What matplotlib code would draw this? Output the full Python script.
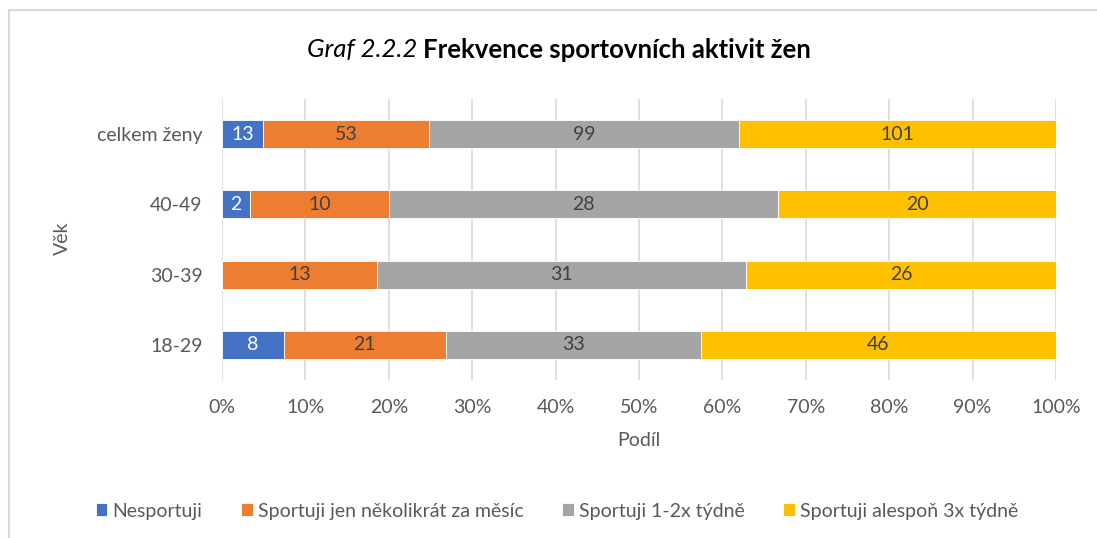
import matplotlib
matplotlib.use('Agg')
from matplotlib import pyplot as plt
from matplotlib.patches import Rectangle
import numpy as np

plt.rcParams['font.family'] = ['Lato', 'DejaVu Sans']

# data (counts per age group), bottom to top
groups = ['18-29', '30-39', '40-49', 'celkem ženy']
series_names = ['Nesportuji', 'Sportuji jen několikrát za měsíc',
                'Sportuji 1-2x týdně', 'Sportuji alespoň 3x týdně']
nesportuji = [8, 0, 2, 13]
nekolikrat = [21, 13, 10, 53]
tydne_1_2 = [33, 31, 28, 99]
tydne_3 = [46, 26, 20, 101]
colors = ['#4472C4', '#ED7D31', '#A5A5A5', '#FFC000']
label_colors = ['white', '#404040', '#404040', '#404040']

counts = np.array([nesportuji, nekolikrat, tydne_1_2, tydne_3], dtype=float)
shares = counts / counts.sum(axis=0)

fig = plt.figure(figsize=(10.97, 5.38), dpi=100)
ax = fig.add_axes([222 / 1097, 1 - 380 / 538, (1056 - 222) / 1097, 281 / 538])

y = np.arange(len(groups))
left = np.zeros(len(groups))
for i in range(len(series_names)):
    bars = ax.barh(y, shares[i], left=left, height=0.4, color=colors[i],
                   edgecolor='white', linewidth=0.6, label=series_names[i], zorder=3)
    for j, b in enumerate(bars):
        if counts[i, j] > 0:
            ax.text(left[j] + shares[i, j] / 2, y[j], '%d' % counts[i, j],
                    ha='center', va='center', fontsize=14, color=label_colors[i], zorder=4)
    left += shares[i]

ax.set_xlim(0, 1)
ax.set_ylim(-0.5, len(groups) - 0.5)
ax.set_xticks(np.arange(0, 1.01, 0.1))
ax.set_xticklabels(['%d%%' % v for v in range(0, 101, 10)])
ax.set_yticks(y)
ax.set_yticklabels(groups)
ax.tick_params(length=0, labelsize=14, labelcolor='#595959', pad=14)
ax.tick_params(axis='y', pad=14)
ax.grid(axis='x', color='#D9D9D9', linewidth=1.2, zorder=0)
for s in ax.spines.values():
    s.set_visible(False)

ax.set_xlabel('Podíl', fontsize=14, color='#595959', labelpad=11)
fig.text(62 / 1097, 1 - 238 / 538, 'Věk', rotation=90, fontsize=14,
         color='#595959', ha='center', va='center')

# title: italic part + bold part, centred together
ty = 1 - 50 / 538
t1 = fig.text(0, ty, 'Graf 2.2.2 ', style='italic', fontsize=18.5, color='black', va='center')
t2 = fig.text(0, ty, 'Frekvence sportovních aktivit žen', weight='bold', fontsize=18.5,
              color='black', va='center')
fig.canvas.draw()
r = fig.canvas.get_renderer()
w1 = t1.get_window_extent(r).width / fig.bbox.width
w2 = t2.get_window_extent(r).width / fig.bbox.width
x0 = 559 / 1097 - (w1 + w2) / 2
t1.set_x(x0)
t2.set_x(x0 + w1)

fig.legend(loc='center', bbox_to_anchor=(557 / 1097, 1 - 511 / 538), ncol=4,
           frameon=False, fontsize=14, labelcolor='#595959', handlelength=0.6,
           handleheight=0.6, handletextpad=0.25, columnspacing=2.0)

# chart frame
fig.patches.append(Rectangle((9 / 1097, -0.1), 1.2, 1 - 10 / 538 + 0.1,
                             transform=fig.transFigure, fill=False,
                             edgecolor='#D9D9D9', linewidth=1.5))

fig.savefig('out.png', dpi=100)
